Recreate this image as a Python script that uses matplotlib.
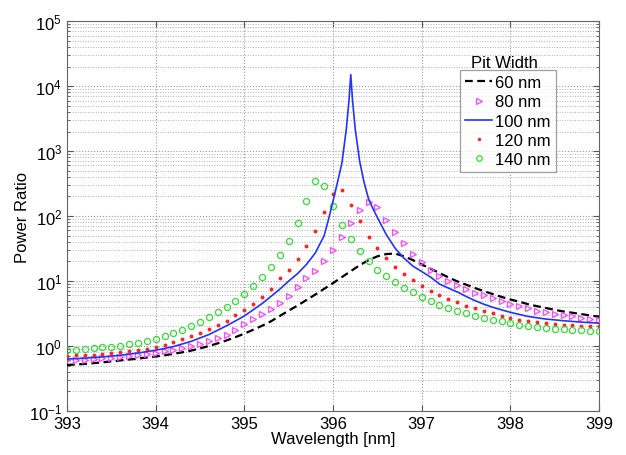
import numpy as np
import matplotlib
matplotlib.use("Agg")
import matplotlib.pyplot as plt
from matplotlib.ticker import LogLocator, FixedLocator, NullFormatter

plt.rcParams['font.family'] = ['Liberation Sans', 'DejaVu Sans']
plt.rcParams['mathtext.fontset'] = 'custom'
plt.rcParams['mathtext.rm'] = 'Liberation Sans'
plt.rcParams['mathtext.it'] = 'Liberation Sans'

# ---------------- data ----------------
wavelength = [round(393.0 + 0.1 * i, 1) for i in range(61)]

pw_60 = [0.51, 0.52, 0.53, 0.545, 0.56, 0.58, 0.60, 0.62, 0.64, 0.665,
         0.69, 0.72, 0.76, 0.80, 0.85, 0.92, 1.0, 1.1, 1.22, 1.37,
         1.55, 1.78, 2.05, 2.4, 2.9, 3.5, 4.2, 5.1, 6.2, 7.6,
         9.3, 11.5, 14.2, 17.5, 21, 24, 26, 26.5, 24, 21,
         18, 15.5, 13.3, 11.4, 9.9, 8.8, 7.8, 7.0, 6.3, 5.7,
         5.2, 4.8, 4.4, 4.1, 3.85, 3.6, 3.4, 3.25, 3.1, 2.95, 2.82]

pw_80 = [0.60, 0.61, 0.62, 0.63, 0.65, 0.66, 0.68, 0.70, 0.73, 0.76,
         0.79, 0.83, 0.87, 0.92, 1.0, 1.08, 1.18, 1.32, 1.5, 1.78,
         2.15, 2.6, 3.1, 3.7, 4.6, 5.9, 8.1, 11, 14.4, 20,
         30, 47, 78, 124, 163, 138, 87, 57, 38, 26.5,
         19.7, 15, 12, 10, 8.6, 7.5, 6.6, 6.0, 5.4, 5.0,
         4.5, 4.2, 3.8, 3.5, 3.3, 3.15, 2.95, 2.85, 2.72, 2.6, 2.5]

wavelength_100 = [393.0, 393.2, 393.4, 393.6, 393.8, 394.0, 394.2, 394.4, 394.6, 394.8,
                  395.0, 395.2, 395.3, 395.4, 395.5, 395.6, 395.7, 395.8, 395.9,
                  395.95, 396.0, 396.05, 396.1, 396.15, 396.18, 396.2, 396.22, 396.25,
                  396.3, 396.35, 396.4, 396.45, 396.5,
                  396.6, 396.7, 396.8, 396.9, 397.0, 397.1, 397.2, 397.3, 397.4, 397.5,
                  397.6, 397.7, 397.8, 397.9, 398.0,
                  398.2, 398.4, 398.6, 398.8, 399.0]
pw_100 = [0.63, 0.65, 0.68, 0.72, 0.78, 0.86, 0.98, 1.18, 1.5, 2.05,
          2.9, 4.5, 5.8, 7.5, 10, 13, 18, 27, 50,
          90, 170, 330, 650, 2200, 6000, 15000, 6000, 2200,
          700, 330, 185, 130, 95,
          52, 32, 22.5, 17, 14, 11.5, 9.0, 7.8, 6.8, 5.8,
          5.0, 4.4, 3.95, 3.6, 3.3,
          2.85, 2.6, 2.45, 2.33, 2.25]

pw_120 = [0.71, 0.72, 0.73, 0.74, 0.76, 0.78, 0.80, 0.83, 0.86, 0.90,
          0.95, 1.05, 1.15, 1.27, 1.42, 1.6, 1.82, 2.1, 2.45, 2.95,
          3.6, 4.5, 5.7, 7.6, 11, 15, 22, 35, 59, 115,
          220, 255, 150, 83, 48, 32, 22.5, 16.6, 12.9, 10.4,
          8.5, 7.1, 6.0, 5.3, 4.7, 4.15, 3.8, 3.45, 3.2, 2.9,
          2.7, 2.55, 2.45, 2.35, 2.28, 2.2, 2.13, 2.08, 2.05, 2.02, 2.0]

pw_140 = [0.87, 0.88, 0.90, 0.92, 0.95, 0.98, 1.01, 1.06, 1.11, 1.18,
          1.30, 1.42, 1.58, 1.77, 2.03, 2.35, 2.8, 3.3, 4.0, 4.9,
          6.4, 8.4, 11.6, 16.6, 25, 42, 78, 168, 345, 295,
          142, 74, 44, 29, 20, 15, 12, 9.6, 7.8, 6.8,
          5.7, 4.9, 4.3, 3.85, 3.45, 3.2, 2.9, 2.7, 2.55, 2.43,
          2.26, 2.10, 2.03, 1.96, 1.89, 1.83, 1.80, 1.76, 1.74, 1.71, 1.70]

labels = ['60 nm', '80 nm', '100 nm', '120 nm', '140 nm']
x_ticks = [393, 394, 395, 396, 397, 398, 399]
legend_title = 'Pit Width'

# ---------------- plot ----------------
fig = plt.figure(figsize=(6.26, 4.56), dpi=100)
ax = fig.add_axes([0.107, 0.0965, 0.85, 0.855])

ax.plot(wavelength, pw_60, ls='--', color='black', lw=1.6, dashes=(3.5, 2.0),
        label=labels[0], zorder=3)
ax.plot(wavelength, pw_80, ls='none', marker='>', ms=4.3, mfc='none',
        mec='#ff44ff', mew=0.9, label=labels[1], zorder=3)
ax.plot(wavelength_100, pw_100, ls='-', color='#2233ff', lw=1.2,
        label=labels[2], zorder=4)
ax.plot(wavelength, pw_120, ls='none', marker='o', ms=2.8, mfc='#ff2222',
        mec='none', label=labels[3], zorder=3)
ax.plot(wavelength, pw_140, ls='none', marker='o', ms=4.4, mfc='none',
        mec='#33dd33', mew=0.9, label=labels[4], zorder=3)

ax.set_yscale('log')
ax.set_xlim(393, 399)
ax.set_ylim(1e-1, 1e5)
ax.xaxis.set_major_locator(FixedLocator(x_ticks))
ax.yaxis.set_major_locator(LogLocator(base=10, numticks=10))
ax.yaxis.set_minor_locator(LogLocator(base=10, subs=np.arange(2, 10), numticks=20))
ax.yaxis.set_minor_formatter(NullFormatter())

ax.grid(True, which='major', ls=':', color='#9a9a9a', lw=0.8)
ax.grid(True, which='minor', axis='y', ls=':', color='#b0b0b0', lw=0.7)
ax.set_axisbelow(True)

ax.tick_params(which='both', direction='in', top=True, right=True,
               labelsize=12, color='#555555')
ax.tick_params(which='major', length=4)
ax.tick_params(which='minor', length=2)
for s in ax.spines.values():
    s.set_color('#666666')
    s.set_linewidth(0.8)

ax.set_xlabel('Wavelength [nm]', fontsize=12, labelpad=0)
ax.set_ylabel('Power Ratio', fontsize=12)
ax.yaxis.set_label_coords(-0.07, 0.5)

leg = ax.legend(loc='upper left', bbox_to_anchor=(0.739, 0.874), fontsize=12,
                frameon=True, fancybox=False, edgecolor='#888888',
                handlelength=1.6, handletextpad=0.2, labelspacing=0.25,
                borderpad=0.3, borderaxespad=0, markerscale=0.9)
leg.get_frame().set_linewidth(0.9)
ax.text(0.823, 0.893, legend_title, transform=ax.transAxes, ha='center',
        va='center', fontsize=12)

fig.savefig('out.png', dpi=100)
